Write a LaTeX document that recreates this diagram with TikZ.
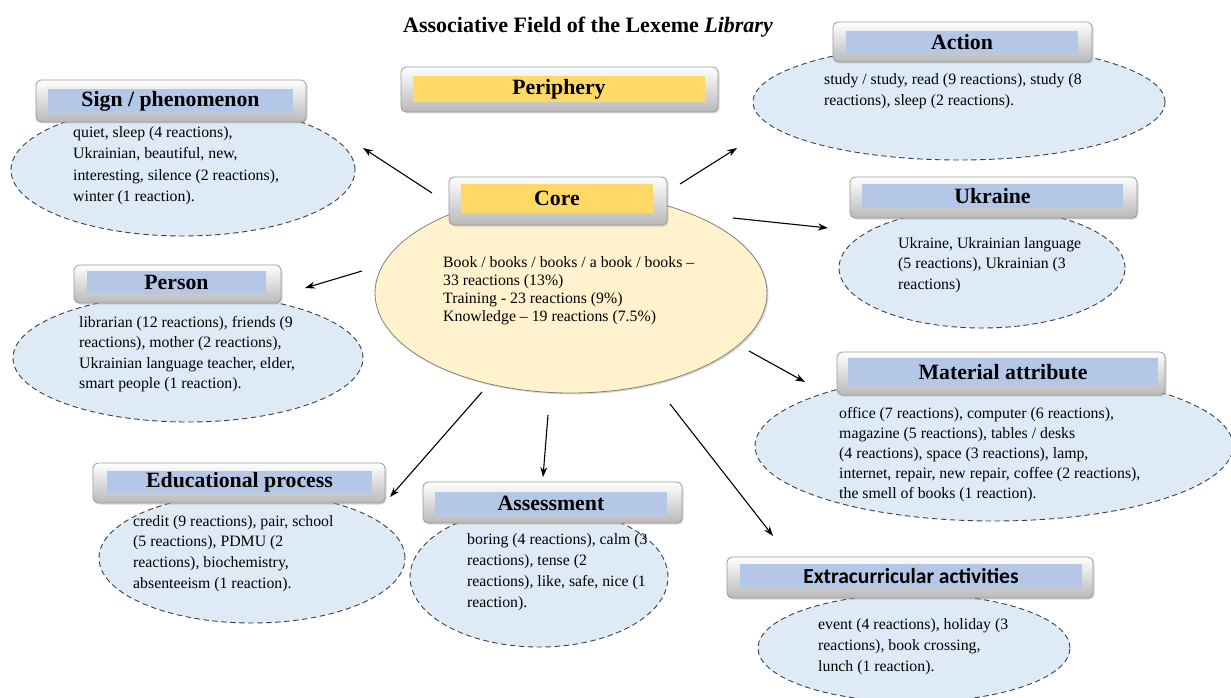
\documentclass[tikz,border=0pt]{standalone}
\usepackage{fontspec}
\setmainfont{Liberation Serif}
\newfontfamily\calibri{Carlito}
\usetikzlibrary{shapes.geometric,shadows,arrows.meta}
\definecolor{barblue}{HTML}{B4C7E7}
\definecolor{baryellow}{HTML}{FFD966}
\definecolor{fieldblue}{HTML}{DEEBF7}
\definecolor{corefill}{HTML}{FFF2CC}

\begin{document}
\begin{tikzpicture}[x=1pt, y=-1pt,
  field/.style = {ellipse, draw=black!75, dash pattern=on 5.5pt off 3.5pt, line width=0.9pt, fill=fieldblue, inner sep=0pt},
  head/.style = {rectangle, rounded corners=5pt, draw=gray!80, line width=0.8pt, top color=white, bottom color=gray!55,
    drop shadow={opacity=0.3, shadow xshift=1.5pt, shadow yshift=-1.5pt}, inner sep=0pt},
  bar/.style = {rectangle, fill=barblue, inner sep=0pt, font=\fontsize{21.8}{24}\selectfont\rmfamily\bfseries},
  words/.style = {anchor=north west, inner sep=0pt, align=left, font=\fontsize{15.8}{21}\selectfont\rmfamily},
  arr/.style = {-{Stealth[length=10pt,width=7pt]}, line width=1.1pt}]
\useasboundingbox (0,0) rectangle (1231,698);

% title
\node[font=\fontsize{22}{24}\selectfont\bfseries, anchor=base] (title) at (588,33) {Associative Field of the Lexeme \textit{Library}};

% fields
\node[field, minimum width=344, minimum height=132] (signE) at (183,170) {};
\node[field, minimum width=412, minimum height=116] (actionE) at (959,102) {};
\node[field, minimum width=286, minimum height=120] (ukraineE) at (982,268) {};
\node[field, minimum width=350, minimum height=128] (personE) at (188,358) {};
\node[field, minimum width=478, minimum height=150] (materialE) at (994,446) {};
\node[field, minimum width=306, minimum height=130] (eduE) at (252,558) {};
\node[field, minimum width=258, minimum height=140] (assessE) at (539,577) {};
\node[field, minimum width=312, minimum height=108] (extraE) at (914,648) {};
\node[ellipse, draw=gray, line width=0.8pt, fill=corefill, drop shadow={opacity=0.3, shadow xshift=1.5pt, shadow yshift=-1.5pt},
  minimum width=392, minimum height=200] (coreE) at (571,293) {};

% headers
\node[head, minimum width=317, minimum height=45] (periphery) at (559.5,89.5) {};
\node[bar, fill=baryellow, minimum width=292, minimum height=26] (peripheryT) at (559,89) {Periphery};
\node[head, minimum width=218, minimum height=48] (core) at (558,201) {};
\node[bar, fill=baryellow, minimum width=192, minimum height=29] (coreT) at (557,198.5) {Core};
\node[head, minimum width=270, minimum height=42] (sign) at (171,101) {};
\node[bar, minimum width=245, minimum height=24] (signT) at (170.5,101) {Sign / phenomenon};
\node[head, minimum width=259, minimum height=40] (action) at (962.5,42) {};
\node[bar, minimum width=232, minimum height=23] (actionT) at (962,42.5) {Action};
\node[head, minimum width=287, minimum height=41] (ukraine) at (993.5,197.5) {};
\node[bar, minimum width=261, minimum height=24] (ukraineT) at (992.5,196) {Ukraine};
\node[head, minimum width=207, minimum height=38] (person) at (177.5,284) {};
\node[bar, minimum width=179, minimum height=23] (personT) at (176.5,282.5) {Person};
\node[head, minimum width=328, minimum height=43] (material) at (1001,373.5) {};
\node[bar, minimum width=310, minimum height=28] (materialT) at (1003,372) {Material attribute};
\node[head, minimum width=292, minimum height=40] (edu) at (239,483) {};
\node[bar, minimum width=265, minimum height=23] (eduT) at (239.5,482.5) {Educational process};
\node[head, minimum width=259, minimum height=41] (assess) at (552.5,502.5) {};
\node[bar, minimum width=232, minimum height=23] (assessT) at (551,503.5) {Assessment};
\node[head, minimum width=366, minimum height=41] (extra) at (910,577.5) {};
\node[bar, minimum width=342, minimum height=24, font=\fontsize{21.5}{24}\selectfont\calibri\bfseries] (extraT) at (911,576) {Extracurricular activities};

% texts
\node[words, font=\fontsize{15.8}{18}\selectfont\rmfamily] (coreW) at (443,256) {Book / books / books / a book / books --\\33 reactions (13\%)\\Training - 23 reactions (9\%)\\Knowledge -- 19 reactions (7.5\%)};
\node[words, font=\fontsize{15.8}{21.5}\selectfont\rmfamily] (signW) at (73,126) {quiet, sleep (4 reactions),\\Ukrainian, beautiful, new,\\interesting, silence (2 reactions),\\winter (1 reaction).};
\node[words] (actionW) at (824,73) {study / study, read (9 reactions), study (8\\reactions), sleep (2 reactions).};
\node[words, font=\fontsize{15.8}{20.8}\selectfont\rmfamily] (ukraineW) at (898,237) {Ukraine, Ukrainian language\\(5 reactions), Ukrainian (3\\reactions)};
\node[words, font=\fontsize{15.8}{20.5}\selectfont\rmfamily] (personW) at (79,316) {librarian (12 reactions), friends (9\\reactions), mother (2 reactions),\\Ukrainian language teacher, elder,\\smart people (1 reaction).};
\node[words, font=\fontsize{15.8}{20}\selectfont\rmfamily] (materialW) at (839,407) {office (7 reactions), computer (6 reactions),\\magazine (5 reactions), tables / desks\\(4 reactions), space (3 reactions), lamp,\\internet, repair, new repair, coffee (2 reactions),\\the smell of books (1 reaction).};
\node[words, font=\fontsize{15.8}{20.8}\selectfont\rmfamily] (eduW) at (133,515) {credit (9 reactions), pair, school\\(5 reactions), PDMU (2\\reactions), biochemistry,\\absenteeism (1 reaction).};
\node[words] (assessW) at (467,533) {boring (4 reactions), calm (3\\reactions), tense (2\\reactions), like, safe, nice (1\\reaction).};
\node[words] (extraW) at (818,618) {event (4 reactions), holiday (3\\reactions), book crossing,\\lunch (1 reaction).};

% arrows
\coordinate (s1) at (432,193); \coordinate (t1) at (363,148);
\coordinate (s2) at (680,184); \coordinate (t2) at (737,148);
\coordinate (s3) at (733,218); \coordinate (t3) at (828,228);
\coordinate (s4) at (362,271); \coordinate (t4) at (305,288);
\coordinate (s5) at (749,351); \coordinate (t5) at (805,382);
\coordinate (s6) at (482,392); \coordinate (t6) at (390,497);
\coordinate (s7) at (548,415); \coordinate (t7) at (543,477);
\coordinate (s8) at (670,404); \coordinate (t8) at (773,536);
\draw[arr] (s1) -- (t1);
\draw[arr] (s2) -- (t2);
\draw[arr] (s3) -- (t3);
\draw[arr] (s4) -- (t4);
\draw[arr] (s5) -- (t5);
\draw[arr] (s6) -- (t6);
\draw[arr] (s7) -- (t7);
\draw[arr] (s8) -- (t8);
\end{tikzpicture}
\end{document}
